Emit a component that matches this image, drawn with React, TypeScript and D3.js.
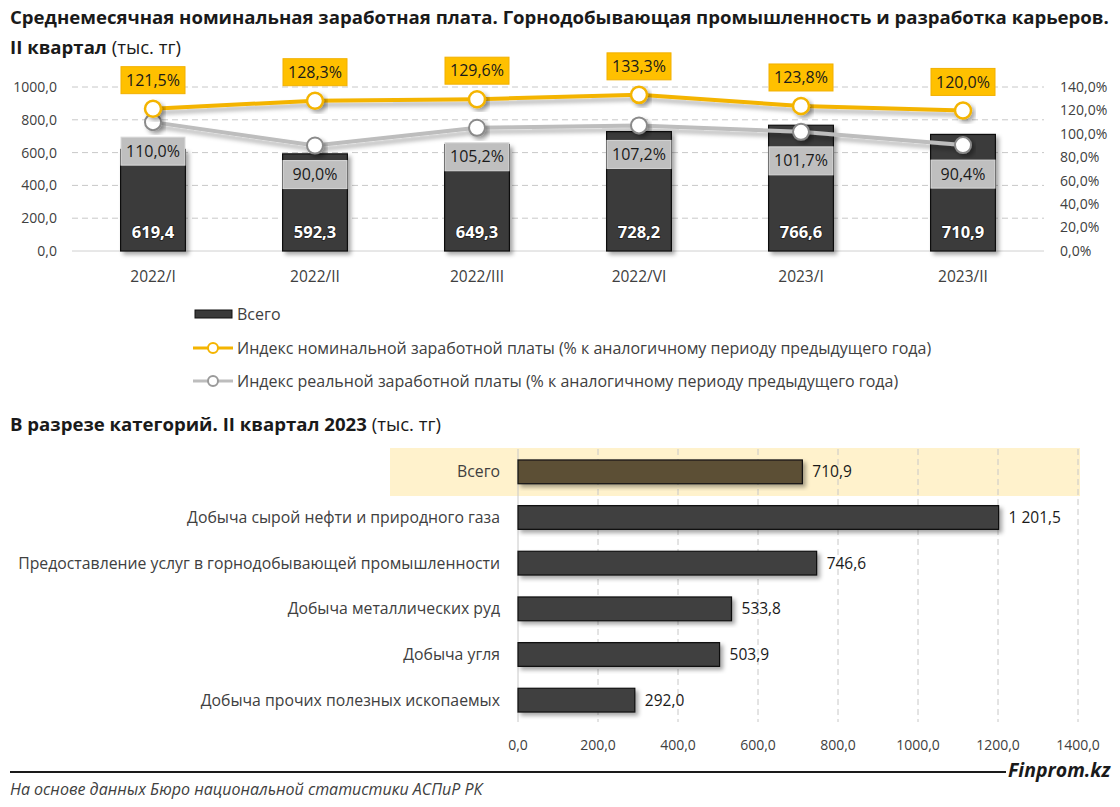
import React from "react";
import * as d3 from "d3";

const periods = ["2022/I", "2022/II", "2022/III", "2022/VI", "2023/I", "2023/II"];
const totalWage = [619.4, 592.3, 649.3, 728.2, 766.6, 710.9];
const nominalIndex = [121.5, 128.3, 129.6, 133.3, 123.8, 120.0];
const realIndex = [110.0, 90.0, 105.2, 107.2, 101.7, 90.4];
const leftTicks = [0, 200, 400, 600, 800, 1000];
const rightTicks = [0, 20, 40, 60, 80, 100, 120, 140];

const categories = [
  "Всего",
  "Добыча сырой нефти и природного газа",
  "Предоставление услуг в горнодобывающей промышленности",
  "Добыча металлических руд",
  "Добыча угля",
  "Добыча прочих полезных ископаемых",
];
const categoryValues = [710.9, 1201.5, 746.6, 533.8, 503.9, 292.0];
const bottomTicks = [0, 200, 400, 600, 800, 1000, 1200, 1400];

const FONT = "'Open Sans', 'Noto Sans', sans-serif";
const fmt1 = (v: number) => v.toFixed(1).replace(".", ",");
const fmtSpace = (v: number) => {
  const [i, f] = v.toFixed(1).split(".");
  return i.replace(/\B(?=(\d{3})+(?!\d))/g, " ") + "," + f;
};

export default function App() {
  const W = 1120, H = 807;
  // top chart
  const x = d3.scaleBand<string>().domain(periods).range([72, 1044]).paddingInner(0.6).paddingOuter(0.3);
  const yL = d3.scaleLinear().domain([0, 1000]).range([251, 87]);
  const yR = d3.scaleLinear().domain([0, 140]).range([251, 87]);
  const cx = (p: string) => (x(p) as number) + x.bandwidth() / 2;
  const line = d3.line<number>().x((_, i) => cx(periods[i])).y((v) => yR(v));

  // bottom chart
  const xb = d3.scaleLinear().domain([0, 1400]).range([518, 1078]);
  const yb = d3.scaleBand<string>().domain(categories).range([449, 723]).paddingInner(0.48).paddingOuter(0.24);

  const textC = "#404040";
  const yellow = "#F4B400";
  const grayL = "#BDBDBD";

  return (
    <svg width={W} height={H} style={{ position: "absolute", left: 0, top: 0, background: "#fff" }} fontFamily={FONT}>
      <defs>
        <filter id="sh" x="-20%" y="-20%" width="150%" height="150%">
          <feDropShadow dx="3" dy="3" stdDeviation="2" floodColor="#000" floodOpacity="0.35" />
        </filter>
        <filter id="shl" x="-5%" y="-50%" width="110%" height="200%">
          <feDropShadow dx="2" dy="4" stdDeviation="2" floodColor="#000" floodOpacity="0.3" />
        </filter>
      </defs>
      <rect width={W} height={H} fill="#fff" />
      {/* Title */}
      <text x={10} y={24} fontSize={18.6} fontWeight={700} fill="#1a1a1a">
        Среднемесячная номинальная заработная плата. Горнодобывающая промышленность и разработка карьеров.
      </text>
      <text x={10} y={54} fontSize={18.6} fill="#1a1a1a">
        <tspan fontWeight={700}>II квартал</tspan>
        <tspan> (тыс. тг)</tspan>
      </text>

      {/* gridlines */}
      {leftTicks.map((t) => (
        <line key={t} x1={72} x2={1044} y1={yL(t)} y2={yL(t)} stroke={t === 0 ? "#d0d0d0" : "#c8c8c8"}
          strokeWidth={1} strokeDasharray={t === 0 ? undefined : "6,4"} />
      ))}
      {leftTicks.map((t) => (
        <text key={t} x={57} y={yL(t)} dy="0.35em" textAnchor="end" fontSize={14} fill={textC}>{fmt1(t)}</text>
      ))}
      {rightTicks.map((t) => (
        <text key={t} x={1060} y={yR(t)} dy="0.35em" textAnchor="start" fontSize={14} fill={textC}>{fmt1(t)}%</text>
      ))}
      {periods.map((p) => (
        <text key={p} x={cx(p)} y={277} dy="0.35em" textAnchor="middle" fontSize={15.5} fill={textC}>{p}</text>
      ))}

      {/* bars */}
      {totalWage.map((v, i) => (
        <rect key={i} x={x(periods[i])} y={yL(v)} width={x.bandwidth()} height={yL(0) - yL(v)}
          fill="#3a3a3a" stroke="#111" strokeWidth={1.2} filter="url(#sh)" />
      ))}
      {totalWage.map((v, i) => (
        <text key={i} x={cx(periods[i])} y={232} dy="0.35em" textAnchor="middle" fontSize={16.5} fontWeight={700}
          fill="#fff" style={{ paintOrder: "stroke" }} stroke="#222" strokeWidth={1.5}>{fmt1(v)}</text>
      ))}

      {/* lines */}
      <path d={line(realIndex) || ""} fill="none" stroke={grayL} strokeWidth={4} filter="url(#shl)" />
      <path d={line(nominalIndex) || ""} fill="none" stroke={yellow} strokeWidth={4} filter="url(#shl)" />
      {realIndex.map((v, i) => (
        <circle key={i} cx={cx(periods[i])} cy={yR(v)} r={8} fill="#fff" stroke="#8a8a8a" strokeWidth={2} filter="url(#sh)" />
      ))}
      {nominalIndex.map((v, i) => (
        <circle key={i} cx={cx(periods[i])} cy={yR(v)} r={8} fill="#fff" stroke={yellow} strokeWidth={2.5} filter="url(#sh)" />
      ))}
      {/* labels */}
      {realIndex.map((v, i) => (
        <g key={i}>
          <rect x={cx(periods[i]) - 32} y={yR(v) + 15} width={64} height={28} fill="#BFBFBF" stroke="#d9d9d9" strokeWidth={1} />
          <text x={cx(periods[i])} y={yR(v) + 29} dy="0.35em" textAnchor="middle" fontSize={16} fill="#1a1a1a">{fmt1(v)}%</text>
        </g>
      ))}
      {nominalIndex.map((v, i) => (
        <g key={i}>
          <rect x={cx(periods[i]) - 32} y={yR(v) - 42} width={64} height={27} fill="#FFC000" stroke="#F2B000" strokeWidth={1} />
          <text x={cx(periods[i])} y={yR(v) - 28.5} dy="0.35em" textAnchor="middle" fontSize={16} fill="#1a1a1a">{fmt1(v)}%</text>
        </g>
      ))}

      {/* legend */}
      <rect x={195} y={310} width={37} height={8} fill="#3a3a3a" stroke="#111" />
      <text x={237} y={314} dy="0.35em" fontSize={16} fill={textC}>Всего</text>
      <line x1={193} x2={233} y1={348} y2={348} stroke={yellow} strokeWidth={3} />
      <circle cx={213} cy={348} r={5} fill="#fff" stroke={yellow} strokeWidth={2} />
      <text x={237} y={348} dy="0.35em" fontSize={16} fill={textC}>Индекс номинальной заработной платы (% к аналогичному периоду предыдущего года)</text>
      <line x1={193} x2={233} y1={381} y2={381} stroke={grayL} strokeWidth={3} />
      <circle cx={213} cy={381} r={5} fill="#fff" stroke="#9a9a9a" strokeWidth={2} />
      <text x={237} y={381} dy="0.35em" fontSize={16} fill={textC}>Индекс реальной заработной платы (% к аналогичному периоду предыдущего года)</text>

      {/* Subtitle */}
      <text x={10} y={431} fontSize={18.6} fill="#1a1a1a">
        <tspan fontWeight={700}>В разрезе категорий. II квартал 2023</tspan>
        <tspan> (тыс. тг)</tspan>
      </text>

      {/* bottom chart */}
      <rect x={390} y={448} width={690} height={48} fill="#FFF2CC" />
      {bottomTicks.map((t) => (
        <line key={t} x1={xb(t)} x2={xb(t)} y1={449} y2={722} stroke="#c8c8c8" strokeDasharray={t === 0 ? undefined : "6,4"} />
      ))}
      {bottomTicks.map((t) => (
        <text key={t} x={xb(t)} y={745} dy="0.35em" textAnchor="middle" fontSize={14} fill={textC}>{fmt1(t)}</text>
      ))}
      {categories.map((c, i) => (
        <g key={c}>
          <text x={500} y={(yb(c) as number) + yb.bandwidth() / 2} dy="0.35em" textAnchor="end" fontSize={15.8} fill={textC}>{c}</text>
          <rect x={xb(0)} y={yb(c)} width={xb(categoryValues[i]) - xb(0)} height={yb.bandwidth()}
            fill={i === 0 ? "#5C4F36" : "#3f3f3f"} stroke="#111" strokeWidth={1.2} filter="url(#sh)" />
          <text x={xb(categoryValues[i]) + 10} y={(yb(c) as number) + yb.bandwidth() / 2} dy="0.35em" fontSize={15.5} fill="#1a1a1a">{fmtSpace(categoryValues[i])}</text>
        </g>
      ))}

      {/* footer */}
      <line x1={10} x2={1006} y1={772} y2={772} stroke="#1a1a1a" strokeWidth={2} />
      <text x={1008} y={777} fontSize={19.5} fontWeight={700} fontStyle="italic" fill="#1a1a1a">Finprom.kz</text>
      <text x={10} y={795} fontSize={16} fontStyle="italic" fill={textC}>На основе данных Бюро национальной статистики АСПиР РК</text>
    </svg>
  );
}
